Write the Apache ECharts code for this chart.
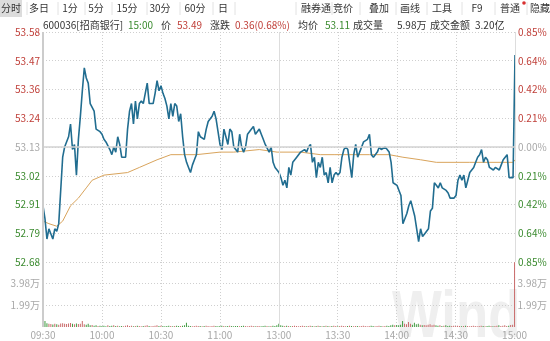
<!DOCTYPE html>
<html><head><meta charset="utf-8">
<script src="https://cdn.jsdelivr.net/npm/echarts@6/dist/echarts.min.js"></script>
<style>html,body{margin:0;padding:0;background:#fff}#c{width:550px;height:341px}</style>
</head><body><div id="c"></div>
<script>
// ---- data ----
const timeTicks = ['09:30','10:00','10:30','11:00','13:00','13:30','14:00','14:30','15:00'];
const priceTicks = ['52.68','52.79','52.91','53.02','53.13','53.24','53.36','53.47','53.58'];
const pctTicks = ['0.85%','0.64%','0.42%','0.21%','0.00%','0.21%','0.42%','0.64%','0.85%'];
const volTicks = ['','1.99万','3.98万',''];
const prevClose = 53.13;
// minute-by-minute price (index 0 = 09:30, 120 = 11:30/13:00, 240 = 15:00)
const prices = [
52.90,52.85,52.77,52.81,52.81,52.77,52.81,52.80,52.83,52.96,
53.09,53.13,53.13,53.17,53.22,53.12,53.14,53.02,53.16,53.25,
53.35,53.44,53.40,53.38,53.30,53.30,53.27,53.20,53.20,53.19,
53.18,53.16,53.15,53.15,53.12,53.10,53.13,53.11,53.17,53.14,
53.09,53.09,53.09,53.20,53.27,53.30,53.22,53.31,53.24,53.30,
53.31,53.30,53.30,53.38,53.30,53.30,53.30,53.34,53.39,53.35,
53.37,53.34,53.32,53.29,53.24,53.30,53.25,53.30,53.29,53.23,
53.26,53.17,53.10,53.07,53.05,53.03,53.06,53.08,53.10,53.19,
53.17,53.17,53.16,53.20,53.23,53.23,53.25,53.27,53.24,53.19,
53.14,53.12,53.20,53.17,53.14,53.20,53.19,53.13,53.12,53.11,
53.18,53.13,53.11,53.13,53.18,53.18,53.20,53.21,53.18,53.18,
53.20,53.18,53.16,53.14,53.14,53.11,53.13,53.07,53.05,53.04,
53.03,53.01,52.98,53.00,52.97,53.05,53.02,53.07,53.08,53.09,
53.09,53.11,53.11,53.12,53.11,53.13,53.14,53.07,53.09,53.01,
53.07,53.05,53.09,53.02,53.03,52.99,53.05,52.99,53.02,53.03,
53.02,53.03,53.09,53.12,53.13,53.12,53.12,53.01,53.10,53.14,
53.09,53.11,53.13,53.15,53.15,53.16,53.18,53.10,53.09,53.09,
53.11,53.13,53.12,53.12,53.13,53.12,53.11,53.07,52.99,52.99,
52.98,52.96,52.94,52.83,52.83,52.87,52.90,52.92,52.89,52.86,
52.81,52.76,52.81,52.78,52.79,52.79,52.81,52.88,52.89,52.99,
52.98,52.97,52.99,52.97,52.97,52.96,52.95,52.93,52.93,52.93,
52.94,53.00,53.02,53.00,53.02,52.97,53.00,53.03,53.04,53.05,
53.07,53.09,53.10,53.12,53.07,53.09,53.08,53.05,53.05,53.04,
53.05,53.05,53.04,53.06,53.08,53.09,53.10,53.01,53.01,53.01,
53.49];
// average price line, read at these minutes
const avgMinutes = [0,3,7,10,14,18,22,25,31,43,49,58,65,71,78,90,97,110,119,131,141,148,156,166,176,183,192,200,217,239,240];
const avgValues  = [52.84,52.83,52.82,52.84,52.90,52.93,52.97,53.00,53.02,53.03,53.05,53.08,53.10,53.10,53.10,53.11,53.11,53.12,53.11,53.11,53.10,53.10,53.10,53.10,53.10,53.09,53.08,53.07,53.07,53.07,53.08];
// volume per minute, in 万
const volumes = [
2.55,0.55,0.35,0.30,0.28,0.22,0.30,0.25,0.20,0.32,
0.35,0.30,0.28,0.33,0.36,0.30,0.25,0.32,0.28,0.30,
0.55,0.25,0.20,0.30,0.15,0.18,0.12,0.15,0.10,0.12,
0.10,0.12,0.08,0.15,0.10,0.12,0.15,0.10,0.12,0.08,
0.10,0.08,0.12,0.15,0.10,0.12,0.08,0.10,0.12,0.10,
0.08,0.10,0.12,0.15,0.10,0.08,0.10,0.12,0.15,0.10,
0.12,0.10,0.08,0.10,0.12,0.10,0.08,0.10,0.12,0.10,
0.10,0.12,0.15,0.40,0.12,0.10,0.08,0.10,0.12,0.10,
0.10,0.08,0.10,0.12,0.10,0.08,0.10,0.12,0.10,0.08,
0.10,0.12,0.10,0.08,0.10,0.12,0.10,0.08,0.10,0.10,
0.08,0.10,0.12,0.10,0.08,0.10,0.12,0.10,0.08,0.10,
0.10,0.08,0.10,0.12,0.10,0.08,0.10,0.12,0.10,0.15,
0.30,0.15,0.12,0.10,0.12,0.10,0.08,0.10,0.12,0.10,
0.08,0.10,0.12,0.10,0.08,0.10,0.12,0.10,0.08,0.10,
0.12,0.10,0.08,0.10,0.12,0.10,0.08,0.10,0.12,0.10,
0.08,0.10,0.12,0.10,0.08,0.10,0.12,0.10,0.08,0.10,
0.10,0.08,0.10,0.12,0.10,0.08,0.10,0.12,0.10,0.08,
0.10,0.12,0.10,0.08,0.10,0.12,0.10,0.15,0.20,0.15,
0.18,0.15,0.20,0.55,0.30,0.25,0.45,0.30,0.20,0.40,
0.25,0.30,0.20,0.15,0.18,0.15,0.20,0.25,0.15,0.20,
0.15,0.12,0.15,0.10,0.12,0.15,0.10,0.12,0.10,0.12,
0.10,0.12,0.10,0.08,0.10,0.12,0.10,0.08,0.10,0.12,
0.10,0.08,0.10,0.12,0.10,0.08,0.10,0.12,0.10,0.08,
0.10,0.12,0.15,0.10,0.12,0.15,0.10,0.12,0.18,0.20,
5.95];
const tabsLeft = ['分时','多日','1分','5分','15分','30分','60分','日'];
const tabsRight = ['融券通','竞价','叠加','画线','工具','F9','普通','隐藏'];

// ---- chart ----
const PMIN = 52.68, PMAX = 53.58, PSTEP = 0.1125;
const RED = '#c0403a', GREEN = '#3a8a2e', GRAY = '#a8a8a8', TXT = '#333';
const FONT = '"Noto Sans CJK SC", "Noto Sans", sans-serif';
const dotted = {color:'#cfcfcf', width:1, type:[1,2]};
function lvl(v){ return Math.round((v - PMIN) / PSTEP); }
function priceRich(arr){
  return function(v){ const i = lvl(v); const k = i < 4 ? 'g' : (i > 4 ? 'r' : 'n'); return '{' + k + '|' + arr[i] + '}'; };
}
const rich = {r:{color:RED, fontSize:10, fontFamily:FONT}, g:{color:GREEN, fontSize:10, fontFamily:FONT}, n:{color:GRAY, fontSize:10, fontFamily:FONT}};

const priceData = prices.map((p,i)=>[i,p]);
const avgData = avgMinutes.map((m,i)=>[m, avgValues[i]]);
const volData = volumes.map((v,i)=>({value:[i,v], itemStyle:{color: (i===0 ? prices[0] < prevClose : prices[i] < prices[i-1]) ? '#3f9a3f' : '#c96a6a'}}));

const graphic = [];
// tab bar
graphic.push({type:'rect', shape:{x:0,y:0,width:22,height:17}, style:{fill:'#dcdcdc'}, silent:true});
const tabLX = [11,39,70,96,127,160,195,223];
const sepL = [27,58,85,112,147,180,213,235,296,332,360,396,427,462,495,527];
sepL.forEach(x=>graphic.push({type:'line', shape:{x1:x,y1:2,x2:x,y2:15}, style:{stroke:'#e2e2e2', lineWidth:1}, silent:true}));
tabsLeft.forEach((t,i)=>graphic.push({type:'text', x:tabLX[i], y:8.5, style:{text:t, fill:TXT, font:'10px '+FONT, textAlign:'center', textVerticalAlign:'middle'}, silent:true}));
const tabRX = [316,343,379,410,442,477,510,540];
tabsRight.forEach((t,i)=>graphic.push({type:'text', x:tabRX[i], y:8.5, style:{text:t, fill:TXT, font:'10px '+FONT, textAlign:'center', textVerticalAlign:'middle'}, silent:true}));
graphic.push({type:'circle', shape:{cx:524, cy:3, r:1.8}, style:{fill:'#d83030'}, silent:true});
// header line
const head = [
 ['600036[招商银行]',43,TXT],['15:00',128,GREEN],['价',161,TXT],['53.49',177,RED],['涨跌',210,TXT],
 ['0.36(0.68%)',235,RED],['均价',298,TXT],['53.11',325,GREEN],['成交量',353,TXT],['5.98万',397,TXT],
 ['成交金额',430,TXT],['3.20亿',475,TXT]
];
head.forEach(h=>graphic.push({type:'text', x:h[1], y:25, style:{text:h[0], fill:h[2], font:'10px '+FONT, textVerticalAlign:'middle'}, silent:true}));
// watermark
graphic.push({type:'text', x:392, y:286, scaleX:0.8, z:-10, style:{text:'Wind', fill:'rgba(190,190,190,0.24)', font:'bold 66px "Liberation Sans", Arial, sans-serif'}, silent:true});

const option = {
  animation:false,
  backgroundColor:'#fff',
  textStyle:{fontFamily:FONT},
  graphic: graphic,
  grid:[
    {left:43, right:35, top:32, height:230},
    {left:43, right:35, top:262, height:65}
  ],
  xAxis:[
    {type:'value', gridIndex:0, min:0, max:240, interval:30, axisLine:{show:false}, axisTick:{show:false}, axisLabel:{show:false}, splitLine:{show:true, lineStyle:dotted}},
    {type:'value', gridIndex:1, min:0, max:240, interval:30, axisLine:{show:false}, axisTick:{show:false},
     axisLabel:{color:GRAY, fontSize:10, fontFamily:FONT, margin:3, formatter:(v)=>timeTicks[Math.round(v/30)]},
     splitLine:{show:true, lineStyle:dotted}}
  ],
  yAxis:[
    {type:'value', gridIndex:0, min:PMIN, max:PMAX, interval:PSTEP, position:'left', axisLine:{show:false}, axisTick:{show:false},
     axisLabel:{margin:3, formatter:priceRich(priceTicks), rich:rich}, splitLine:{show:true, lineStyle:dotted}},
    {type:'value', gridIndex:0, min:PMIN, max:PMAX, interval:PSTEP, position:'right', axisLine:{show:false}, axisTick:{show:false},
     axisLabel:{margin:3, formatter:priceRich(pctTicks), rich:rich}, splitLine:{show:false}},
    {type:'value', gridIndex:1, min:0, max:5.97, interval:1.99, position:'left', axisLine:{show:false}, axisTick:{show:false},
     axisLabel:{margin:3, color:GRAY, fontSize:10, fontFamily:FONT, formatter:(v)=>volTicks[Math.round(v/1.99)]},
     splitLine:{show:true, showMinLine:false, showMaxLine:false, lineStyle:dotted}},
    {type:'value', gridIndex:1, min:0, max:5.97, interval:1.99, position:'right', axisLine:{show:false}, axisTick:{show:false},
     axisLabel:{margin:3, color:GRAY, fontSize:10, fontFamily:FONT, formatter:(v)=>volTicks[Math.round(v/1.99)]},
     splitLine:{show:false}}
  ],
  series:[
    {type:'line', xAxisIndex:0, yAxisIndex:0, data:avgData, showSymbol:false, symbol:'none', lineStyle:{color:'#d9a45c', width:1}, z:3,
     markLine:{silent:true, symbol:'none', label:{show:false},
       data:[
         {yAxis:prevClose, lineStyle:{color:'#d2d2d2', width:1.5, type:'solid'}},
         {xAxis:0, lineStyle:{color:'#cccccc', width:2, type:'solid'}},
         {xAxis:120, lineStyle:{color:'#dddddd', width:1, type:'solid'}},
         {xAxis:240, lineStyle:{color:'#dddddd', width:1, type:'solid'}}
       ]}},
    {type:'line', xAxisIndex:0, yAxisIndex:0, data:priceData, showSymbol:false, symbol:'none', lineStyle:{color:'#216d90', width:1.6}, z:4},
    {type:'bar', xAxisIndex:1, yAxisIndex:2, data:volData, barWidth:1, barMinHeight:0, z:3,
     markLine:{silent:true, symbol:'none', label:{show:false},
       data:[
         {xAxis:0, lineStyle:{color:'#cccccc', width:2, type:'solid'}},
         {xAxis:120, lineStyle:{color:'#dddddd', width:1, type:'solid'}}
       ]}}
  ]
};
const chart = echarts.init(document.getElementById('c'), null, {renderer:'canvas'});
chart.setOption(option);
</script>
</body></html>
